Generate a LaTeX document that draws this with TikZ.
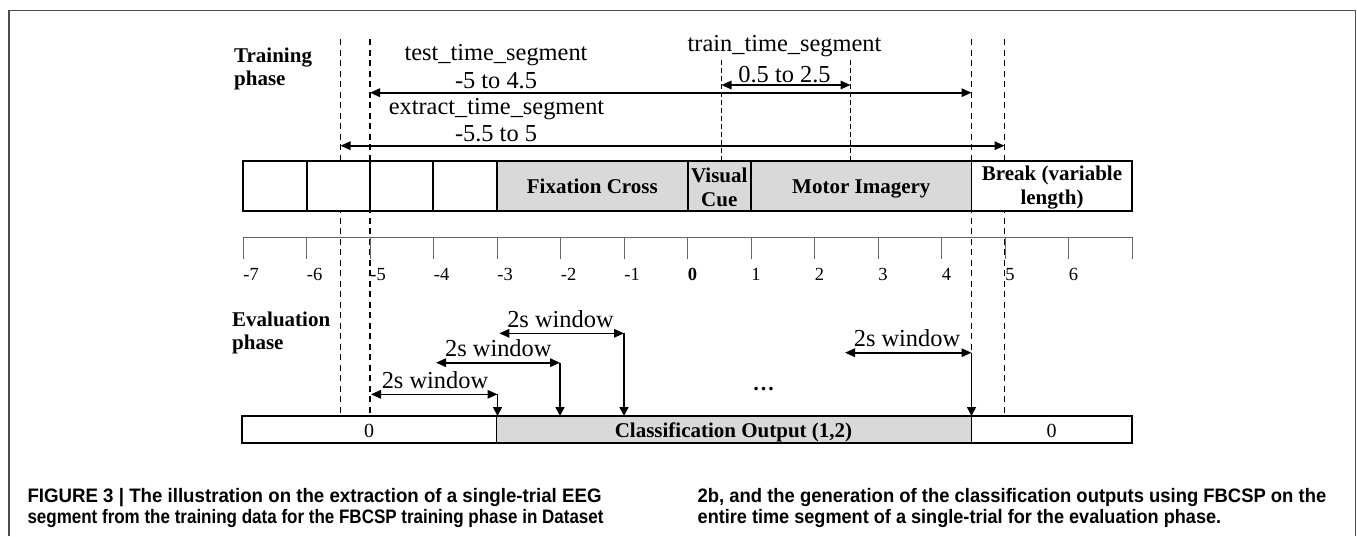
\documentclass[tikz,border=0pt]{standalone}
\usepackage{fontspec}
\setmainfont{Liberation Serif}
\newfontfamily\capfont{Liberation Sans}
\usepackage{graphicx}
\usetikzlibrary{arrows.meta}
\tikzset{
  lbl/.style={font=\fontsize{24.4}{28}\selectfont, inner sep=0pt, anchor=base},
  blbl/.style={font=\bfseries\fontsize{21}{23.5}\selectfont, inner sep=0pt, align=center},
  phase/.style={font=\bfseries\fontsize{21}{22.5}\selectfont, inner sep=0pt, anchor=base west, align=left},
  ticklbl/.style={font=\fontsize{18.5}{20}\selectfont, inner sep=0pt, anchor=base west},
  caption/.style={font=\capfont\bfseries\fontsize{19.5}{21}\selectfont, inner sep=0pt, anchor=base west},
  dimarrow/.style={line width=1.6pt, {Triangle[length=10pt,width=8.5pt]}-{Triangle[length=10pt,width=8.5pt]}},
  downarrow/.style={line width=1.6pt, -{Triangle[length=9pt,width=9pt]}},
  outerdash/.style={line width=1.9pt, dash pattern=on 6pt off 4.5pt},
  innerdash/.style={line width=1.3pt, dash pattern=on 4.5pt off 3.5pt},
  wseg/.style={draw, line width=1.8pt, fill=white},
  gseg/.style={draw, line width=1.8pt, fill=gray!30},
  frameline/.style={line width=1.6pt, draw=black!70},
  axisline/.style={line width=1.3pt, draw=black!60},
}
\begin{document}
\begin{tikzpicture}[x=1pt, y=-1pt]
\useasboundingbox (0,0) rectangle (1357,536);
% frame
\draw[frameline] (9,536) -- (9,10.5) -- (1355.5,10.5) -- (1355.5,536);

% dashed guide lines
\draw[outerdash] (340.5,39) -- (340.5,416);
\draw[outerdash] (370,39) -- (370,416);
\draw[outerdash] (971.5,39) -- (971.5,416);
\draw[outerdash] (1004.5,39) -- (1004.5,416);
\draw[innerdash] (721.5,60) -- (721.5,161);
\draw[innerdash] (850.5,60) -- (850.5,161);

% event bar
\draw[wseg] (243.2,161) rectangle (306.7,211.3);
\draw[wseg] (306.7,161) rectangle (370,211.3);
\draw[wseg] (370,161) rectangle (433.3,211.3);
\draw[wseg] (433.3,161) rectangle (497,211.3);
\draw[gseg] (497,161) rectangle (687.7,211.3);
\draw[gseg] (687.7,161) rectangle (751,211.3);
\draw[gseg] (751,161) rectangle (971.5,211.3);
\draw[wseg] (971.5,161) rectangle (1132.3,211.3);
\node[blbl, anchor=base] (fix) at (592.3,193.3) {Fixation Cross};
\node[blbl] (cue) at (719.3,187.5) {Visual\\Cue};
\node[blbl, anchor=base] (mi) at (861.3,193.3) {Motor Imagery};
\node[blbl] (brk) at (1052,187.5) {Break (variable\\length)};

% axis
\draw[axisline] (243.2,237.3) -- (1132.3,237.3);
\foreach \t in {-7,...,7} {
  \draw[axisline] ({687.7+63.5*\t},237.3) -- ++(0,22);
}
\foreach \t in {-7,-6,-5,-4,-3,-2,-1,1,2,3,4,5,6} {
  \node[ticklbl] (tk\t) at ({687.7+63.5*\t},280) {\t};
}
\node[ticklbl, font=\bfseries\fontsize{18.5}{20}\selectfont] (tk0) at (687.7,280) {0};

% phase labels
\node[phase] (trainph) at (234,85) {Training\\phase};
\node[phase] (evalph) at (232,349.3) {Evaluation\\phase};

% training arrows
\coordinate (testL) at (370,92.7);
\coordinate (testR) at (971.5,92.7);
\coordinate (extL) at (340.5,145.7);
\coordinate (extR) at (1004.5,145.7);
\coordinate (trL) at (721.5,85);
\coordinate (trR) at (850.5,85);
\draw[dimarrow] (testL) -- (testR);
\draw[dimarrow] (extL) -- (extR);
\draw[dimarrow] (trL) -- (trR);
\node[lbl] (testname) at (496,60) {test\_time\_segment};
\node[lbl] (testrange) at (496,88) {-5 to 4.5};
\node[lbl] (extname) at (496.5,114) {extract\_time\_segment};
\node[lbl] (extrange) at (496,141.7) {-5.5 to 5};
\node[lbl] (trname) at (784.5,51) {train\_time\_segment};
\node[lbl] (trrange) at (784.5,82.6) {0.5 to 2.5};

% bottom bar
\draw[wseg] (241.7,416) rectangle (496.5,443.3);
\draw[gseg] (496.5,416) rectangle (971.5,443.3);
\draw[wseg] (971.5,416) rectangle (1131.7,443.3);
\node[lbl, font=\fontsize{20}{22}\selectfont] (z1) at (369,437.5) {0};
\node[blbl, anchor=base] (cls) at (733.5,437.5) {Classification Output (1,2)};
\node[lbl, font=\fontsize{20}{22}\selectfont] (z2) at (1051.5,437.5) {0};

% evaluation windows
\coordinate (w1L) at (371,394.3);
\coordinate (w1R) at (497.5,394.3);
\coordinate (w1B) at (497.5,416);
\coordinate (w2L) at (436,362.7);
\coordinate (w2R) at (560,362.7);
\coordinate (w2B) at (560,416);
\coordinate (w3L) at (499.3,333.3);
\coordinate (w3R) at (624,333.3);
\coordinate (w3B) at (624,416);
\coordinate (w4L) at (845,352.7);
\coordinate (w4R) at (971.5,352.7);
\coordinate (w4B) at (971.5,416);
\draw[dimarrow] (w1L) -- (w1R);
\draw[dimarrow] (w2L) -- (w2R);
\draw[dimarrow] (w3L) -- (w3R);
\draw[dimarrow] (w4L) -- (w4R);
\draw[downarrow] (w1R) -- (w1B);
\draw[downarrow] (w2R) -- (w2B);
\draw[downarrow] (w3R) -- (w3B);
\draw[downarrow] (w4R) -- (w4B);
\node[lbl] (w1t) at (435,388) {2s window};
\node[lbl] (w2t) at (498.3,356.7) {2s window};
\node[lbl] (w3t) at (560.5,327.3) {2s window};
\node[lbl] (w4t) at (907,346.7) {2s window};
\node[lbl, font=\bfseries\fontsize{22}{24}\selectfont] (dots) at (763.5,390.5) {…};

% caption
\node[caption] (cap1) at (27.3,502.3) {\resizebox{574pt}{\height}{FIGURE 3 | The illustration on the extraction of a single-trial EEG}};
\node[caption] (cap2) at (27.3,523.5) {\resizebox{576pt}{\height}{segment from the training data for the FBCSP training phase in Dataset}};
\node[caption] (cap3) at (697.5,502.3) {\resizebox{628.5pt}{\height}{2b, and the generation of the classification outputs using FBCSP on the}};
\node[caption] (cap4) at (697.5,523.5) {\resizebox{523.5pt}{\height}{entire time segment of a single-trial for the evaluation phase.}};
\end{tikzpicture}
\end{document}
